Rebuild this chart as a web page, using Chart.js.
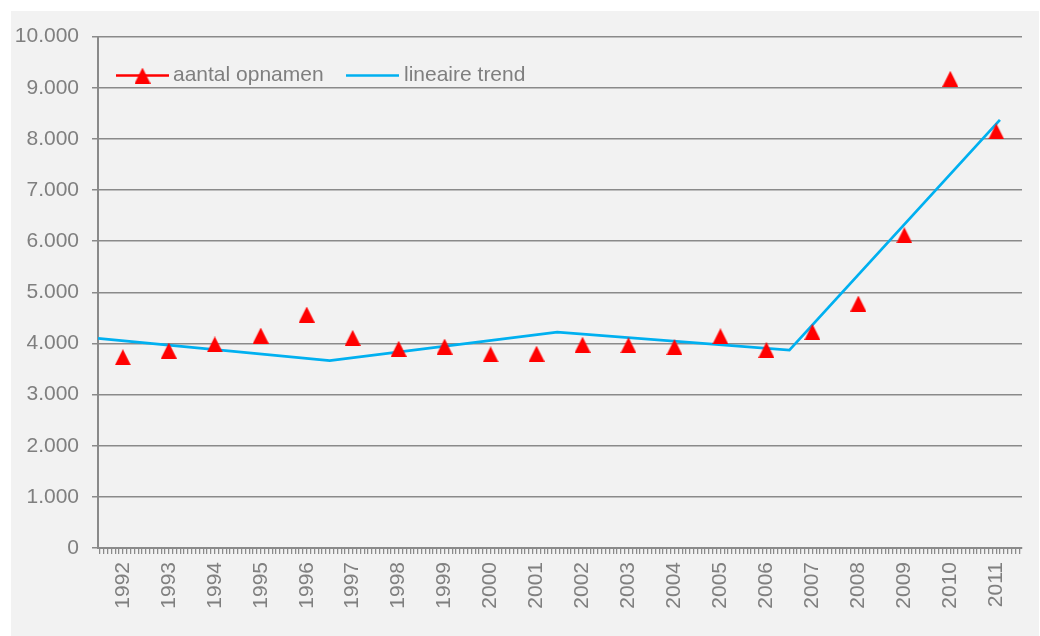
<!DOCTYPE html>
<html>
<head>
<meta charset="utf-8">
<script src="https://cdn.jsdelivr.net/npm/chart.js@4/dist/chart.umd.min.js"></script>
<style>
  html, body { margin: 0; padding: 0; background: #ffffff; }
  #panel {
    position: absolute; left: 11px; top: 11px;
    width: 1028px; height: 625px; background: #f2f2f2;
  }
</style>
</head>
<body>
<div id="panel"><canvas id="chart"></canvas></div>
<script>
// Yearly number of admissions
const years = [1992, 1993, 1994, 1995, 1996, 1997, 1998, 1999, 2000, 2001,
               2002, 2003, 2004, 2005, 2006, 2007, 2008, 2009, 2010, 2011];
const admissions = [3730, 3860, 3980, 4155, 4565, 4110, 3895, 3940, 3785, 3800,
                    3975, 3965, 3930, 4140, 3875, 4225, 4780, 6115, 9175, 8145];

// X range (years) and piecewise linear trend
const xMin = 1991.46;
const xMax = 2011.56;
const trendYears = [1991.46, 1996.5, 2001.45, 2006.5, 2011.08];
const trendValues = [4100, 3665, 4222, 3869, 8373];

// Y axis ticks
const yTicks = [0, 1000, 2000, 3000, 4000, 5000, 6000, 7000, 8000, 9000, 10000];

const seriesLabels = ['aantal opnamen', 'lineaire trend'];
const RED = '#ff0000';
const BLUE = '#00b0f0';
const TEXT = '#7f7f7f';
const GRID = '#8a8a8a';
const FONT = { family: '"Liberation Sans", Arial, sans-serif', size: 21 };

// Triangle marker
function makeTriangle(size) {
  const c = document.createElement('canvas');
  c.width = size; c.height = size;
  const g = c.getContext('2d');
  g.fillStyle = RED;
  g.beginPath();
  g.moveTo(0, size); g.lineTo(size / 2, 0); g.lineTo(size, size);
  g.closePath(); g.fill();
  return c;
}
const triangle = makeTriangle(16);

function fmtThousands(v) {
  return String(v).replace(/\B(?=(\d{3})+(?!\d))/g, '.');
}

// Legend drawn inside the plot area, top-left
const innerLegend = {
  id: 'innerLegend',
  afterDraw(chart) {
    const { ctx, chartArea } = chart;
    const y = chartArea.top + 39;
    const x0 = chartArea.left + 18;
    ctx.save();
    ctx.font = `${FONT.size}px ${FONT.family}`;
    ctx.textBaseline = 'middle';
    ctx.fillStyle = TEXT;
    // series 1
    ctx.strokeStyle = RED; ctx.lineWidth = 2.5;
    ctx.beginPath(); ctx.moveTo(x0, y); ctx.lineTo(x0 + 53, y); ctx.stroke();
    ctx.drawImage(triangle, x0 + 26.5 - triangle.width / 2, y - triangle.height / 2);
    ctx.fillText(seriesLabels[0], x0 + 57, y);
    // series 2
    const x1 = chartArea.left + 248;
    ctx.strokeStyle = BLUE; ctx.lineWidth = 2.5;
    ctx.beginPath(); ctx.moveTo(x1, y); ctx.lineTo(x1 + 53, y); ctx.stroke();
    ctx.fillText(seriesLabels[1], x1 + 58, y);
    ctx.restore();
  }
};

new Chart(document.getElementById('chart'), {
  type: 'scatter',
  data: {
    datasets: [
      {
        label: seriesLabels[0],
        data: years.map((yr, i) => ({ x: yr, y: admissions[i] })),
        showLine: false,
        pointStyle: triangle,
        pointRadius: 8,
        pointHoverRadius: 8
      },
      {
        label: seriesLabels[1],
        data: trendYears.map((yr, i) => ({ x: yr, y: trendValues[i] })),
        showLine: true,
        borderColor: BLUE,
        borderWidth: 2.75,
        pointRadius: 0,
        pointHoverRadius: 0,
        tension: 0
      }
    ]
  },
  options: {
    responsive: true,
    maintainAspectRatio: false,
    animation: false,
    events: [],
    layout: { padding: { top: 25, right: 0, left: 0, bottom: 0 } },
    plugins: {
      legend: { display: false },
      tooltip: { enabled: false }
    },
    scales: {
      x: {
        type: 'linear',
        min: xMin,
        max: xMax,
        afterBuildTicks(scale) {
          // monthly tick marks, one label per year
          const ticks = [];
          for (let k = -1; k <= years.length * 12 + 1; k++) {
            const v = years[0] - 0.5 + k / 12;
            if (v >= xMin - 1e-9 && v <= xMax + 1e-9) ticks.push({ value: v });
          }
          scale.ticks = ticks;
        },
        afterFit(scale) {
          scale.height = 88;
          scale.paddingRight = 17;
        },
        grid: {
          drawOnChartArea: false,
          drawTicks: true,
          tickLength: 6,
          color: GRID,
          lineWidth: 1.25
        },
        border: { color: GRID, width: 2 },
        ticks: {
          autoSkip: false,
          minRotation: 90,
          maxRotation: 90,
          padding: 8,
          color: TEXT,
          font: FONT,
          callback(value) {
            const r = Math.round(value);
            if (Math.abs(value - r) < 1e-6 && years.includes(r)) return String(r);
            return '';
          }
        }
      },
      y: {
        min: yTicks[0],
        max: yTicks[yTicks.length - 1],
        afterBuildTicks(scale) {
          scale.ticks = yTicks.map(v => ({ value: v }));
        },
        afterFit(scale) { scale.width = 87; },
        grid: {
          color: GRID,
          lineWidth: 1.5,
          tickLength: 6,
          drawTicks: true
        },
        border: { color: GRID, width: 2 },
        ticks: {
          padding: 13,
          color: TEXT,
          font: FONT,
          callback(value) { return fmtThousands(value); }
        }
      }
    }
  },
  plugins: [innerLegend]
});
</script>
</body>
</html>
